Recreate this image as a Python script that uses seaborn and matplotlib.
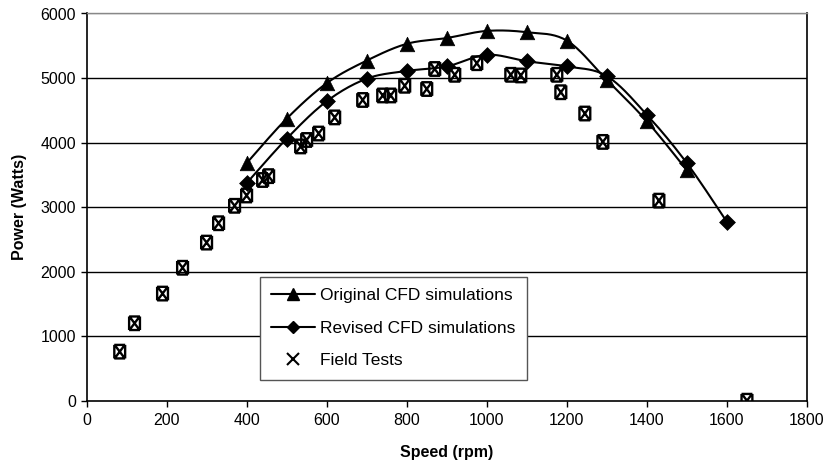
import numpy as np
import pandas as pd
import seaborn as sns
import matplotlib
matplotlib.use("Agg")
import matplotlib.pyplot as plt
from matplotlib.lines import Line2D
from matplotlib.path import Path

# ---- data ----
orig_speed = [400, 500, 600, 700, 800, 900, 1000, 1100, 1200, 1300, 1400, 1500]
orig_power = [3680, 4370, 4920, 5270, 5530, 5620, 5730, 5710, 5580, 4970, 4330, 3570]

rev_speed = [400, 500, 600, 700, 800, 900, 1000, 1100, 1200, 1300, 1400, 1500, 1600]
rev_power = [3370, 4060, 4640, 4990, 5110, 5180, 5360, 5260, 5180, 5030, 4430, 3680, 2770]

field_speed = [83, 120, 190, 240, 300, 330, 370, 400, 440, 455, 535, 550, 580, 620,
               690, 740, 760, 795, 850, 870, 920, 975, 1060, 1085, 1175, 1185, 1245,
               1290, 1430, 1650]
field_power = [760, 1200, 1660, 2060, 2450, 2750, 3020, 3180, 3420, 3480, 3940, 4040,
               4140, 4390, 4660, 4730, 4730, 4880, 4830, 5140, 5050, 5230, 5050, 5040,
               5050, 4780, 4450, 4010, 3100, 0]

x_ticks = [0, 200, 400, 600, 800, 1000, 1200, 1400, 1600, 1800]
y_ticks = [0, 1000, 2000, 3000, 4000, 5000, 6000]


def smooth(xs, ys, n=20):
    """Excel-style smoothed line drawing (Bezier through the data points)."""
    P = np.column_stack([xs, ys]).astype(float)
    out = []
    m = len(P)
    for i in range(m - 1):
        p0 = P[i - 1] if i > 0 else P[i]
        p1 = P[i]
        p2 = P[i + 1]
        p3 = P[i + 2] if i + 2 < m else P[i + 1]
        c1 = p1 + (p2 - p0) / 6.0
        c2 = p2 - (p3 - p1) / 6.0
        t = np.linspace(0, 1, n, endpoint=(i == m - 2))[:, None]
        seg = ((1 - t) ** 3) * p1 + 3 * ((1 - t) ** 2) * t * c1 + 3 * (1 - t) * t ** 2 * c2 + t ** 3 * p2
        out.append(seg)
    out = np.vstack(out)
    return out[:, 0], out[:, 1]


sns.set_style("white")
plt.rcParams['font.family'] = ['Liberation Sans', 'DejaVu Sans']

fig = plt.figure(figsize=(8.27, 4.65), dpi=100)
ax = fig.add_axes([86.5 / 827, 1 - 400.7 / 465, (807 - 86.5) / 827, (400.7 - 13.5) / 465])

# gridlines
for yv in y_ticks[1:]:
    ax.axhline(yv, color='black' if yv < 6000 else '#888888', lw=1.0, zorder=0)

# smoothed lines
sx, sy = smooth(orig_speed, orig_power)
sns.lineplot(x=sx, y=sy, ax=ax, color='black', lw=1.5, sort=False, estimator=None, zorder=2)
sx, sy = smooth(rev_speed, rev_power)
sns.lineplot(x=sx, y=sy, ax=ax, color='black', lw=1.5, sort=False, estimator=None, zorder=2)

# markers
sns.scatterplot(x=orig_speed, y=orig_power, ax=ax, marker='^', s=110, color='black',
                edgecolor='black', linewidth=0.5, zorder=3)
sns.scatterplot(x=rev_speed, y=rev_power, ax=ax, marker='D', s=65, color='black',
                edgecolor='black', linewidth=0.5, zorder=3)

# field test marker: box with X
verts = [(-0.8, 1), (0.8, 1), (-0.8, -1), (0.8, -1),
         (-0.8, 1), (-0.8, -1), (0.8, 1), (0.8, -1),
         (-0.6, 0.8), (0.6, -0.8), (0.6, 0.8), (-0.6, -0.8)]
codes = [Path.MOVETO, Path.LINETO] * 6
ft_marker = Path(verts, codes)
sns.scatterplot(x=field_speed, y=field_power, ax=ax, marker=ft_marker, s=95,
                color='none', edgecolor='black', linewidth=1.7, zorder=4)

ax.set_xlim(0, 1800)
ax.set_ylim(0, 6000)
ax.set_xticks(x_ticks)
ax.set_yticks(y_ticks)
ax.tick_params(axis='both', labelsize=11.5, colors='black', direction='out', length=4,
               width=1, bottom=True, left=True)
ax.tick_params(axis='x', pad=5)
ax.set_xlabel('Speed (rpm)', fontsize=11.5, fontweight='bold', labelpad=12, color='black')
ax.set_ylabel('Power (Watts)', fontsize=11.5, fontweight='bold', labelpad=10, color='black')

for side in ['left', 'bottom', 'right']:
    ax.spines[side].set_color('black')
    ax.spines[side].set_linewidth(1.2)
ax.spines['top'].set_color('#888888')
ax.spines['top'].set_linewidth(1.0)

handles = [
    Line2D([0], [0], color='black', lw=1.5, marker='^', markersize=9),
    Line2D([0], [0], color='black', lw=1.5, marker='D', markersize=6),
    Line2D([0], [0], color='none', marker='x', markersize=8, markeredgecolor='black',
           markeredgewidth=1.5),
]
labels = ['Original CFD simulations', 'Revised CFD simulations', 'Field Tests']
leg = ax.legend(handles, labels, loc='upper left', bbox_to_anchor=(0.2408, 0.3195),
                borderaxespad=0, fontsize=12.5, frameon=True, fancybox=False,
                edgecolor='#555555', framealpha=1, handlelength=2.5, borderpad=0.65,
                labelspacing=1.0, handletextpad=0.3, labelcolor='black')
leg.get_frame().set_linewidth(1.0)

fig.savefig('out.png', dpi=100)
